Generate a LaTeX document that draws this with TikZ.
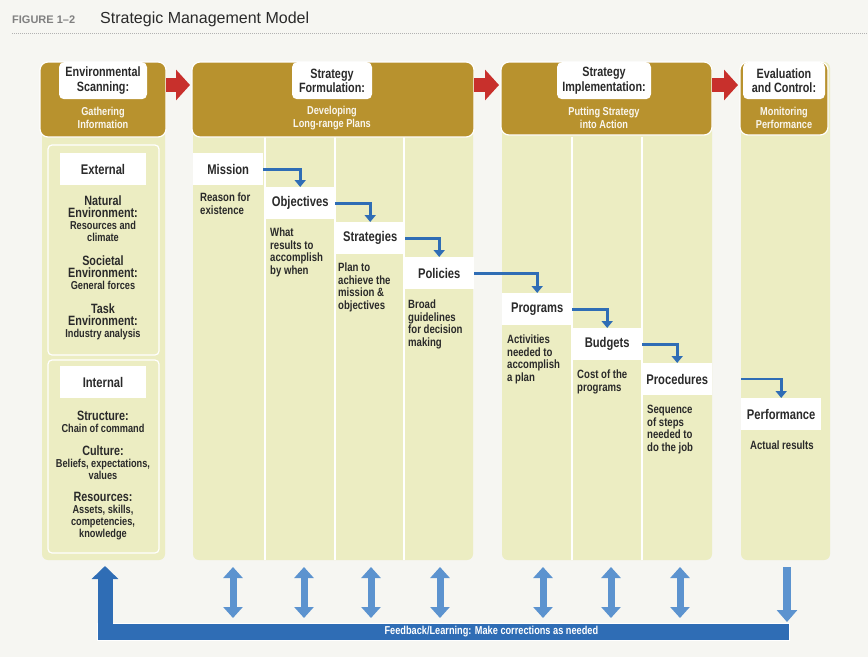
\documentclass[tikz,border=0pt]{standalone}
\usepackage{fontspec}
\setmainfont{Liberation Sans}
\newfontfamily\cond{Liberation Sans Bold}[FakeStretch=0.8]
\usetikzlibrary{arrows.meta}
\definecolor{gold}{HTML}{B8922E}
\definecolor{pale}{HTML}{ECEDC2}
\definecolor{bgc}{HTML}{F6F6F2}
\definecolor{bl}{HTML}{2F6DB5}
\definecolor{bll}{HTML}{5C93CF}
\definecolor{rd}{HTML}{C8302C}
\definecolor{txt}{HTML}{2A2A2A}
\tikzset{
  colbg/.style={fill=pale, rounded corners=6},
  header/.style={fill=gold, draw=white, line width=1.2, rounded corners=8},
  tab/.style={fill=white, rounded corners=5, anchor=north, align=center, font=\cond\fontsize{13.5}{14.5}\selectfont, text=txt, inner sep=3},
  sub/.style={align=center, text=white!92!gold, font=\cond\fontsize{11.5}{13.5}\selectfont},
  itembox/.style={fill=white, anchor=north west, minimum width=70, minimum height=32, font=\cond\fontsize{14}{15}\selectfont, text=txt, inner sep=2},
  desc/.style={anchor=north west, align=left, font=\cond\fontsize{12}{12.5}\selectfont, text=txt, inner sep=0},
  ctext/.style={align=center, text=txt, inner sep=0},
  bluearr/.style={draw=bl, line width=2.6, -{Triangle[width=11,length=7]}},
  dbl/.style={draw=bll, line width=7, {Triangle[width=19,length=11]}-{Triangle[width=19,length=11]}},
  redarr/.style={draw=rd, line width=14, -{Triangle[width=30,length=14]}},
  divider/.style={draw=white, line width=1.2}
}
\newcommand\hA{\cond\fontsize{13.5}{14}\selectfont}
\newcommand\hB{\cond\fontsize{11.5}{12.5}\selectfont}
\begin{document}
\begin{tikzpicture}[x=1pt,y=-1pt]
\useasboundingbox (0,0) rectangle (868,657);
\fill[bgc] (0,0) rectangle (868,657);
% title
\node[anchor=west, inner sep=0, text=gray, font=\bfseries\fontsize{11}{12}\selectfont] (fig) at (12,20) {FIGURE 1–2};
\node[anchor=west, inner sep=0, text=txt, font=\fontsize{16}{18}\selectfont] (title) at (100,19) {Strategic Management Model};
\draw[gray!60, densely dotted, line width=1] (12,33) -- (868,33);
% column backgrounds
\path[colbg] (42,62) rectangle (165,560);
\path[colbg] (193,62) rectangle (473,560);
\path[colbg] (502,62) rectangle (712,560);
\path[colbg] (741,62) rectangle (830,560);
\foreach \x in {265,335,404,572,642} \draw[divider] (\x,137) -- (\x,560);
\draw[white, line width=1.2, rounded corners=4] (48,145) rectangle (159,355);
\draw[white, line width=1.2, rounded corners=4] (48,360) rectangle (159,553);
% headers
\path[header] (40,62) rectangle (166,137);
\path[header] (192,62) rectangle (474,137);
\path[header] (501,62) rectangle (712,135);
\path[header] (740,62) rectangle (828,135);
\node[tab, minimum width=88, minimum height=37] (h1) at (103,62) {Environmental\\Scanning:};
\node[sub] (s1) at (103,118) {Gathering\\Information};
\node[tab, minimum width=80, minimum height=37] (h2) at (332,62) {Strategy\\Formulation:};
\node[sub] (s2) at (332,118) {Developing\\Long-range Plans};
\node[tab, minimum width=94, minimum height=37] (h3) at (604,62) {Strategy\\Implementation:};
\node[sub] (s3) at (604,118) {Putting Strategy\\into Action};
\node[tab, minimum width=82, minimum height=37] (h4) at (784,62) {Evaluation\\and Control:};
\node[sub] (s4) at (784,118) {Monitoring\\Performance};
% red arrows
\coordinate (r1a) at (166,85); \coordinate (r1b) at (190,85);
\coordinate (r2a) at (474,85); \coordinate (r2b) at (499,85);
\coordinate (r3a) at (712,85); \coordinate (r3b) at (738,85);
\draw[redarr] (r1a) -- (r1b);
\draw[redarr] (r2a) -- (r2b);
\draw[redarr] (r3a) -- (r3b);
% column 1
\node[itembox, anchor=north, minimum width=86] (ext) at (103,153) {External};
\node[ctext] (nat) at (103,219) {\hA Natural\\\hA Environment:\\\hB Resources and\\\hB climate};
\node[ctext] (soc) at (103,273) {\hA Societal\\\hA Environment:\\\hB General forces};
\node[ctext] (task) at (103,322) {\hA Task\\\hA Environment:\\\hB Industry analysis};
\node[itembox, anchor=north, minimum width=86] (int) at (103,366) {Internal};
\node[ctext] (str) at (103,422) {\hA Structure:\\\hB Chain of command};
\node[ctext] (cul) at (103,463) {\hA Culture:\\\hB Beliefs, expectations,\\\hB values};
\node[ctext] (res) at (103,516) {\hA Resources:\\\hB Assets, skills,\\\hB competencies,\\\hB knowledge};
% column 2 items
\node[itembox] (mis) at (193,153) {Mission};
\node[desc] (misd) at (200,193) {Reason for\\existence};
\node[itembox] (obj) at (265,187) {Objectives};
\node[desc] (objd) at (270,228) {What\\results to\\accomplish\\by when};
\node[itembox] (stg) at (335,222) {Strategies};
\node[desc] (stgd) at (338,263) {Plan to\\achieve the\\mission \&\\objectives};
\node[itembox] (pol) at (404,257) {Policies};
\node[desc] (pold) at (408,300) {Broad\\guidelines\\for decision\\making};
% column 3 items
\node[itembox] (prg) at (502,293) {Programs};
\node[desc] (prgd) at (507,335) {Activities\\needed to\\accomplish\\a plan};
\node[itembox] (bud) at (572,328) {Budgets};
\node[desc] (budd) at (577,370) {Cost of the\\programs};
\node[itembox] (pro) at (642,363) {Procedures};
\node[desc] (prod) at (647,405) {Sequence\\of steps\\needed to\\do the job};
% column 4
\node[itembox, minimum width=80] (perf) at (741,398) {Performance};
\node[desc] (perfd) at (750,441) {Actual results};
% blue elbow arrows
\draw[bluearr] (mis.east) -| (obj.north);
\draw[bluearr] (obj.east) -| (stg.north);
\draw[bluearr] (stg.east) -| (pol.north);
\draw[bluearr] (pol.east) -| (prg.north);
\draw[bluearr] (prg.east) -| (bud.north);
\draw[bluearr] (bud.east) -| (pro.north);
\coordinate (pstart) at (741,379);
\draw[bluearr] (pstart) -| (perf.north);
% feedback
\node[fill=bl, draw=white, line width=0.8, minimum width=692, minimum height=17, inner sep=0, anchor=north west, text=white, font=\cond\fontsize{11.5}{12}\selectfont] (fb) at (97,623) {\hspace{96pt}Feedback/Learning: Make corrections as needed};
\coordinate (upb) at (105,632); \coordinate (upt) at (105,566);
\draw[draw=bl, line width=15, -{Triangle[width=26,length=13]}] (upb) -- (upt);
\foreach \x in {233,304,371,440,543,611,680} {
  \coordinate (da\x) at (\x,567); \coordinate (db\x) at (\x,618);
  \draw[dbl] (da\x) -- (db\x);
}
\coordinate (dnt) at (787,567); \coordinate (dnb) at (787,622);
\draw[draw=bll, line width=8, -{Triangle[width=20,length=12]}] (dnt) -- (dnb);
\end{tikzpicture}
\end{document}
